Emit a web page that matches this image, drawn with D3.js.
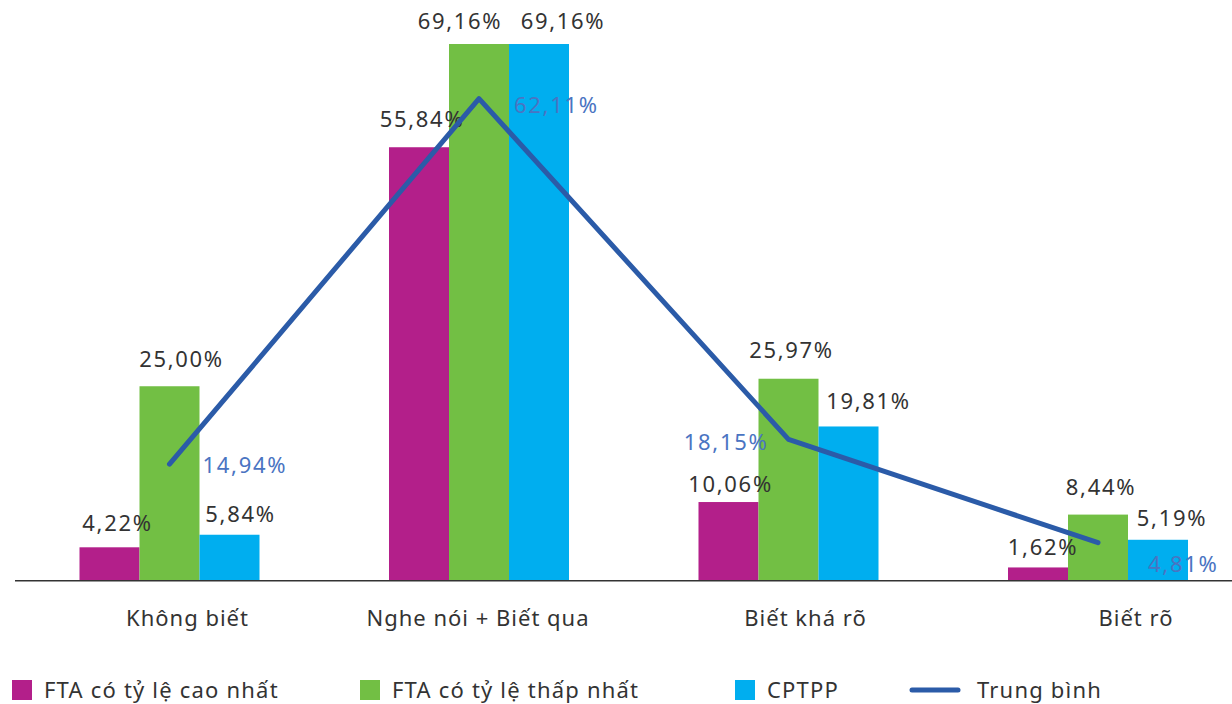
<!DOCTYPE html>
<html>
<head>
<meta charset="utf-8">
<script src="https://cdn.jsdelivr.net/npm/d3@7"></script>
<style>
  html, body { margin: 0; padding: 0; background: #fff; }
  svg { display: block; }
  text { font-family: "Noto Sans", "Open Sans", sans-serif; fill: #333; }
</style>
</head>
<body>
<svg id="chart" width="1232" height="704"></svg>
<script>
// ---- data ----
const categories = ["Không biết", "Nghe nói + Biết qua", "Biết khá rõ", "Biết rõ"];
const seriesNames = ["FTA có tỷ lệ cao nhất", "FTA có tỷ lệ thấp nhất", "CPTPP"];
const lineName = "Trung bình";
const ftaHigh = [4.22, 55.84, 10.06, 1.62];
const ftaLow  = [25.00, 69.16, 25.97, 8.44];
const cptpp   = [5.84, 69.16, 19.81, 5.19];
const average = [14.94, 62.11, 18.15, 4.81];

// ---- styles / layout ----
const colors = ["#b31f8a", "#72bf44", "#00aeef"];
const lineColor = "#2b5ba8";
const lineLabelColor = "#4a74c2";
const fmt = v => d3.format(".2f")(v).replace(".", ",") + "%";

// label nudges (layout only): [dx from bar centre, gap above bar top]
const barLabelNudge = [
  [[7, 16], [11, 19], [10, 13]],
  [[2, 20], [-20, 15], [23, 15]],
  [[1, 10], [2, 21], [19, 17]],
  [[4, 12], [2, 20], [13, 14]]
];
// line label nudges: [anchor, dx, dy]
const lineLabelNudge = [["start", 33, 9], ["start", 35, 14], ["end", -20, 11], ["start", 50, 29]];
const catLabelNudge = [18, -1, 17, 38];

const svg = d3.select("#chart");
const baseY = 580;

const x0 = d3.scaleBand().domain(categories).range([14.75, 1252.75]).paddingInner(0.4184).paddingOuter(0.2092);
const x1 = d3.scaleBand().domain(seriesNames).range([0, x0.bandwidth()]).padding(0);
const y = d3.scaleLinear().domain([0, 70]).range([baseY, baseY - 70 * 7.75]);
const color = d3.scaleOrdinal().domain(seriesNames).range(colors);

const seriesValues = [ftaHigh, ftaLow, cptpp];

// bars
const groups = svg.append("g").selectAll("g")
  .data(categories)
  .join("g")
  .attr("transform", d => `translate(${x0(d)},0)`);

groups.selectAll("rect")
  .data((c, i) => seriesNames.map((s, j) => ({ s, v: seriesValues[j][i], i, j })))
  .join("rect")
  .attr("x", d => x1(d.s))
  .attr("y", d => y(d.v))
  .attr("width", x1.bandwidth())
  .attr("height", d => y(0) - y(d.v))
  .attr("fill", d => color(d.s));

// axis line (x axis without ticks)
const xAxis = d3.axisBottom(x0).tickSize(0).tickFormat("");
const axisG = svg.append("g").attr("transform", `translate(0,${baseY})`).call(xAxis);
axisG.select(".domain").remove();
svg.append("line")
  .attr("x1", 15).attr("x2", 1232)
  .attr("y1", baseY + 0.75).attr("y2", baseY + 0.75)
  .attr("stroke", "#333").attr("stroke-width", 1.5);

// category labels
svg.append("g").selectAll("text")
  .data(categories)
  .join("text")
  .attr("x", (d, i) => x0(d) + x0.bandwidth() / 2 + catLabelNudge[i])
  .attr("y", 626)
  .attr("text-anchor", "middle")
  .attr("font-size", 22)
  .attr("letter-spacing", 1)
  .text(d => d);

// bar value labels
groups.selectAll("text")
  .data((c, i) => seriesNames.map((s, j) => ({ s, v: seriesValues[j][i], i, j })))
  .join("text")
  .attr("x", d => x1(d.s) + x1.bandwidth() / 2 + barLabelNudge[d.i][d.j][0] + 1)
  .attr("y", d => y(d.v) - barLabelNudge[d.i][d.j][1])
  .attr("text-anchor", "middle")
  .attr("font-size", 22)
  .attr("letter-spacing", 1.7)
  .text(d => fmt(d.v));

// average line
const cx = c => x0(c) + x0.bandwidth() / 2;
const lineGen = d3.line().x((d, i) => cx(categories[i])).y(d => y(d));
svg.append("path")
  .datum(average)
  .attr("d", lineGen)
  .attr("fill", "none")
  .attr("stroke", lineColor)
  .attr("stroke-width", 5)
  .attr("stroke-linecap", "round")
  .attr("stroke-linejoin", "round");

svg.append("g").selectAll("text")
  .data(average)
  .join("text")
  .attr("x", (d, i) => cx(categories[i]) + lineLabelNudge[i][1])
  .attr("y", (d, i) => y(d) + lineLabelNudge[i][2])
  .attr("text-anchor", (d, i) => lineLabelNudge[i][0])
  .attr("font-size", 22)
  .attr("letter-spacing", 1.7)
  .style("fill", lineLabelColor)
  .text(d => fmt(d));

// legend
const legendX = [12, 360, 735, 912];
const legend = svg.append("g");
seriesNames.forEach((s, j) => {
  legend.append("rect")
    .attr("x", legendX[j]).attr("y", 680)
    .attr("width", 20).attr("height", 20)
    .attr("fill", color(s));
  legend.append("text")
    .attr("x", legendX[j] + 32).attr("y", 698)
    .attr("font-size", 22)
    .attr("letter-spacing", 1.2)
    .text(s);
});
legend.append("line")
  .attr("x1", legendX[3]).attr("x2", legendX[3] + 46)
  .attr("y1", 690).attr("y2", 690)
  .attr("stroke", lineColor).attr("stroke-width", 5)
  .attr("stroke-linecap", "round");
legend.append("text")
  .attr("x", legendX[3] + 65).attr("y", 698)
  .attr("font-size", 22)
  .attr("letter-spacing", 1.2)
  .text(lineName);
</script>
</body>
</html>
